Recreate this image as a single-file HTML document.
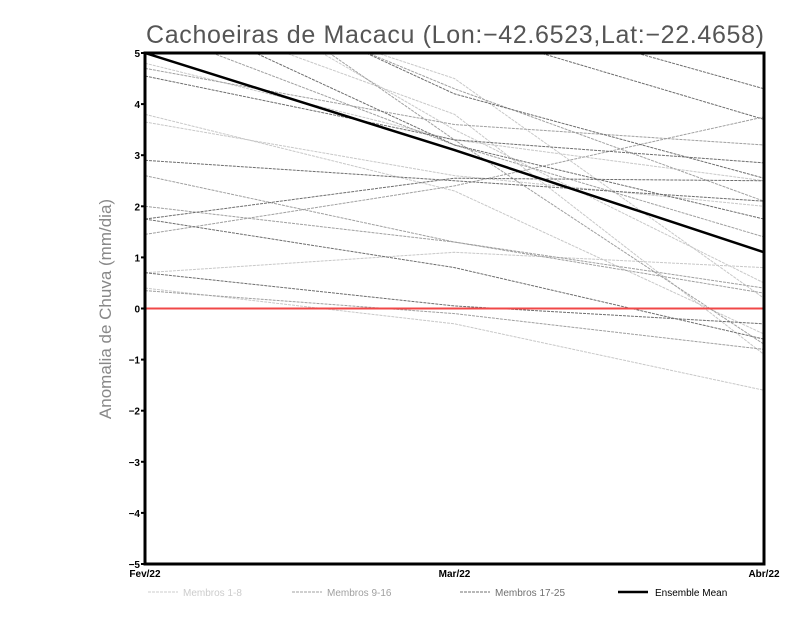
<!DOCTYPE html>
<html><head><meta charset="utf-8"><style>
body{margin:0;background:#fff;}
svg{display:block;font-family:"Liberation Sans",sans-serif;}
</style></head><body>
<svg id="chart" width="800" height="618">
<defs><clipPath id="pc"><rect x="145" y="53" width="619" height="511"/></clipPath></defs>
<text x="455" y="43" text-anchor="middle" font-size="25" fill="#555" textLength="618">Cachoeiras de Macacu (Lon:−42.6523,Lat:−22.4658)</text>
<text transform="translate(111,309) rotate(-90)" text-anchor="middle" font-size="17" fill="#888">Anomalia de Chuva (mm/dia)</text>
<g id="lines" clip-path="url(#pc)"></g>
<g id="axes"></g>
<g id="legend">
<line x1="148" y1="592" x2="178" y2="592" stroke="#ccc" stroke-dasharray="3,1"/>
<text x="183" y="596" font-size="10" fill="#ccc">Membros 1-8</text>
<line x1="292" y1="592" x2="322" y2="592" stroke="#a0a0a0" stroke-dasharray="3,1"/>
<text x="327" y="596" font-size="10" fill="#a0a0a0">Membros 9-16</text>
<line x1="460" y1="592" x2="490" y2="592" stroke="#707070" stroke-dasharray="3,1"/>
<text x="495" y="596" font-size="10" fill="#707070">Membros 17-25</text>
<line x1="618" y1="592" x2="648" y2="592" stroke="#000" stroke-width="2.5"/>
<text x="655" y="596" font-size="10" fill="#000">Ensemble Mean</text>
</g>
</svg>
<script>
const categories = ["Fev/22","Mar/22","Abr/22"];
const yTicks = [-5,-4,-3,-2,-1,0,1,2,3,4,5];
const membersLight = [[4.8,3.3,2.5],[3.8,2.3,-0.5],[3.65,2.6,2.0],[0.7,1.1,0.8],[0.4,-0.3,-1.6],[7.0,3.5,0.5],[6.5,4.5,0.2],[6.0,3.8,-0.9]];
const membersMid = [[4.7,3.6,3.2],[2.6,1.3,0.4],[1.45,2.4,3.75],[2.0,1.3,0.3],[7.5,3.3,-0.7],[6.8,4.3,2.1],[0.35,-0.1,-0.8],[5.5,3.2,1.4]];
const membersDark = [[4.55,3.3,2.85],[2.9,2.5,2.1],[1.75,2.55,2.5],[1.75,0.8,-0.6],[0.7,0.05,-0.3],[6.8,5.5,3.7],[8.0,6.0,4.3],[6.0,3.2,1.75],[7.0,4.2,2.55]];
const ensembleMean = [5.0,3.1,1.1];

const X0=145,X1=764,Y0=564,Y1=53;
function xs(i){return X0+(X1-X0)*i/(categories.length-1);}
function ys(v){return Y0-(v+5)/10*(Y0-Y1);}
const NS="http://www.w3.org/2000/svg";
const lines=document.getElementById('lines');
const axes=document.getElementById('axes');
function poly(vals,color,w,dash,name,parent){
  const p=document.createElementNS(NS,'polyline');
  p.setAttribute('points',vals.map((v,i)=>xs(i)+','+ys(v)).join(' '));
  p.setAttribute('fill','none');p.setAttribute('stroke',color);p.setAttribute('stroke-width',w);
  if(dash)p.setAttribute('stroke-dasharray',dash);
  
  
  parent.appendChild(p);
}
membersLight.forEach((m,i)=>poly(m,'#c8c8c8',1,'3,1','member-light-'+(i+1),lines));
membersMid.forEach((m,i)=>poly(m,'#a0a0a0',1,'3,1','member-mid-'+(i+9),lines));
membersDark.forEach((m,i)=>poly(m,'#6e6e6e',1,'3,1','member-dark-'+(i+17),lines));
// zero line
const z=document.createElementNS(NS,'line');
z.setAttribute('x1',X0);z.setAttribute('x2',X1);z.setAttribute('y1',ys(0));z.setAttribute('y2',ys(0));
z.setAttribute('stroke','#f04848');z.setAttribute('stroke-width',2);


lines.appendChild(z);
poly(ensembleMean,'#000',2.5,null,'ensemble-mean-line',lines);
// frame
const fr=document.createElementNS(NS,'rect');
fr.setAttribute('x',X0);fr.setAttribute('y',Y1);fr.setAttribute('width',X1-X0);fr.setAttribute('height',Y0-Y1);
fr.setAttribute('fill','none');fr.setAttribute('stroke','#000');fr.setAttribute('stroke-width',3);


axes.appendChild(fr);
yTicks.forEach(t=>{
  const tk=document.createElementNS(NS,'line');
  tk.setAttribute('x1',X0-4);tk.setAttribute('x2',X0);tk.setAttribute('y1',ys(t));tk.setAttribute('y2',ys(t));
  tk.setAttribute('stroke','#000');tk.setAttribute('stroke-width',2);
  
  
  axes.appendChild(tk);
  const tx=document.createElementNS(NS,'text');
  tx.setAttribute('x',X0-5);tx.setAttribute('y',ys(t)+4);tx.setAttribute('text-anchor','end');
  tx.setAttribute('font-size','10');tx.setAttribute('font-weight','bold');
  tx.textContent=t<0?'−'+(-t):String(t);
  
  
  axes.appendChild(tx);
});
categories.forEach((c,i)=>{
  const tx=document.createElementNS(NS,'text');
  tx.setAttribute('x',xs(i));tx.setAttribute('y',Y0+13);tx.setAttribute('text-anchor','middle');
  tx.setAttribute('font-size','10');tx.setAttribute('font-weight','bold');
  tx.textContent=c;
  
  
  axes.appendChild(tx);
});
</script>
</body></html>
